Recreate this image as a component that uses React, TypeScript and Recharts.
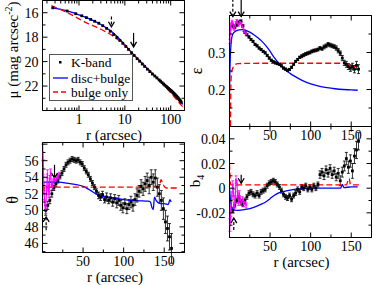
import React from 'react';
import {
  ComposedChart,
  Line,
  Scatter,
  XAxis,
  YAxis,
  ErrorBar,
  ReferenceLine,
} from 'recharts';

const W = 374;
const H = 285;
const FONT = '"Liberation Serif", "DejaVu Serif", serif';
const BLUE = '#0000ff';
const RED = '#ff0000';
const MAGENTA = '#ff00ff';

// ---- surface brightness profile (log r) ----
const KB_R = [0.27, 0.55, 0.85, 1.15, 1.45, 1.8, 2.2, 2.7, 3.3, 4.0, 4.8, 5.7, 6.7, 7.8, 9, 10.5, 12, 14, 16, 18.5, 21, 24, 27, 31, 35, 40, 45, 50, 56,
  60, 65, 70, 75, 80, 85, 90, 95, 100, 105, 110, 115, 120, 125, 130, 135, 140, 145, 150, 155, 160, 165, 170];
const KB_MU = [15.6, 15.86, 16.08, 16.25, 16.4, 16.55, 16.7, 16.86, 17.06, 17.28, 17.52, 17.78, 18.02, 18.26, 18.5, 18.76, 19.0, 19.27, 19.5, 19.76, 19.97, 20.2, 20.4, 20.62, 20.82, 21.02, 21.18, 21.33, 21.5,
  21.6, 21.72, 21.83, 21.93, 22.03, 22.12, 22.2, 22.28, 22.35, 22.42, 22.5, 22.57, 22.64, 22.71, 22.78, 22.85, 22.92, 22.98, 23.05, 23.12, 23.18, 23.25, 23.32];
const DB_R = [0.25, 0.4, 0.6, 0.8, 1, 1.5, 2, 3, 4, 5, 7, 10, 15, 20, 30, 40, 60, 80, 100, 130, 160, 185];
const DB_MU = [15.6, 15.72, 15.88, 16.04, 16.18, 16.42, 16.62, 16.96, 17.25, 17.5, 18.0, 18.62, 19.37, 19.85, 20.52, 21.0, 21.62, 22.08, 22.45, 22.9, 23.25, 23.5];
const BO_R = [0.25, 0.4, 0.6, 1, 1.5, 2, 3, 4, 5, 7, 10, 15, 20, 30, 45, 60, 80, 100, 130, 160, 185];
const BO_MU = [15.42, 15.75, 16.05, 16.5, 16.85, 17.05, 17.35, 17.6, 17.8, 18.2, 18.7, 19.37, 19.85, 20.5, 21.15, 21.65, 22.15, 22.55, 23.05, 23.45, 23.72];

// ---- ellipse fit, outer radii ----
const FIT_R = [4, 6.5, 9, 11.5, 14, 16.5, 19, 21.5, 24, 26.5, 29, 31.5, 34, 36.5, 39, 41.5, 44, 46.5, 49, 51.5, 54, 56.5, 59, 61.5, 64, 66.5, 69, 71.5, 74, 76.5,
  79, 81.5, 84, 86.5, 89, 91.5, 94, 96.5, 99, 101.5, 104, 106.5, 109, 111.5, 114, 116.5, 119, 121.5, 124, 126.5, 129, 131.5, 134, 136.5, 139, 141.5, 144, 146.5, 149, 151.5,
  154, 156.5, 159];
const EPS = [0.372, 0.368, 0.375, 0.382, 0.385, 0.372, 0.355, 0.348, 0.342, 0.335,
  0.330, 0.322, 0.318, 0.312, 0.308, 0.303, 0.299, 0.292, 0.285, 0.279,
  0.275, 0.272, 0.270, 0.268, 0.264, 0.258, 0.255, 0.252, 0.254, 0.260,
  0.268, 0.276, 0.281, 0.287, 0.290, 0.293, 0.296, 0.298, 0.300, 0.303,
  0.305, 0.306, 0.308, 0.312, 0.310, 0.315, 0.318, 0.322, 0.320, 0.318,
  0.316, 0.312, 0.305, 0.298, 0.285, 0.272, 0.268, 0.262, 0.258, 0.262,
  0.255, 0.265, 0.255];
const EPS_ERR = [0.005, 0.004, 0.004, 0.003, 0.003, 0.003, 0.003, 0.003, 0.003, 0.003,
  0.003, 0.003, 0.003, 0.003, 0.003, 0.003, 0.003, 0.003, 0.003, 0.003,
  0.003, 0.003, 0.003, 0.003, 0.003, 0.003, 0.003, 0.003, 0.003, 0.003,
  0.003, 0.003, 0.003, 0.003, 0.004, 0.004, 0.004, 0.004, 0.004, 0.004,
  0.004, 0.004, 0.004, 0.004, 0.004, 0.005, 0.005, 0.005, 0.005, 0.005,
  0.005, 0.006, 0.006, 0.006, 0.007, 0.007, 0.008, 0.008, 0.009, 0.009,
  0.010, 0.011, 0.012];
const PA = [50.0, 50.6, 51.2, 52.0, 52.7, 53.2, 53.6, 54.1, 54.5, 55.0,
  55.5, 55.8, 56.0, 56.2, 56.1, 56.0, 56.1, 55.8, 55.6, 55.1,
  54.7, 54.3, 53.8, 53.3, 52.8, 52.3, 51.8, 51.6, 51.9, 51.3,
  51.6, 51.2, 51.5, 51.0, 51.4, 50.9, 51.2, 50.6, 50.3, 50.8,
  50.2, 50.7, 51.0, 50.6, 51.3, 51.8, 52.3, 52.9, 52.6, 53.2,
  53.6, 53.0, 54.0, 53.4, 53.9, 52.8, 52.0, 51.2, 50.2, 48.6,
  47.8, 46.8, 45.4];
const PA_ERR = [0.6, 0.5, 0.4, 0.4, 0.3, 0.3, 0.3, 0.3, 0.3, 0.3,
  0.3, 0.3, 0.3, 0.3, 0.3, 0.3, 0.3, 0.3, 0.3, 0.3,
  0.3, 0.3, 0.3, 0.3, 0.3, 0.3, 0.4, 0.4, 0.4, 0.4,
  0.5, 0.4, 0.5, 0.5, 0.5, 0.6, 0.6, 0.6, 0.6, 0.6,
  0.6, 0.6, 0.7, 0.7, 0.7, 0.8, 0.7, 0.8, 0.8, 0.9,
  0.9, 1.0, 0.9, 1.0, 1.0, 1.1, 1.1, 1.2, 1.3, 1.4,
  1.5, 1.6, 1.8];
const B4 = [-0.018, -0.014, -0.010, -0.008, -0.011, -0.013, -0.010, -0.007, -0.004, -0.003,
  -0.005, -0.006, -0.004, -0.006, -0.003, -0.002, -0.001, 0.002, 0.004, 0.005,
  0.006, 0.005, 0.003, 0.001, -0.002, -0.005, -0.007, -0.008, -0.006, -0.009,
  -0.006, -0.004, -0.001, -0.003, 0.001, 0.000, 0.002, -0.001, 0.001, -0.001,
  0.002, 0.000, 0.003, 0.011, 0.013, 0.010, 0.015, 0.012, 0.016, 0.011,
  0.014, 0.009, 0.012, 0.006, 0.013, 0.018, 0.024, 0.017, 0.022, 0.014,
  0.026, 0.031, 0.038];
const B4_ERR = [0.002, 0.002, 0.002, 0.002, 0.002, 0.002, 0.002, 0.002, 0.002, 0.002,
  0.002, 0.002, 0.002, 0.002, 0.002, 0.002, 0.002, 0.002, 0.002, 0.002,
  0.002, 0.002, 0.002, 0.002, 0.002, 0.002, 0.002, 0.002, 0.002, 0.002,
  0.002, 0.002, 0.002, 0.002, 0.002, 0.002, 0.002, 0.002, 0.002, 0.002,
  0.002, 0.002, 0.002, 0.003, 0.003, 0.003, 0.003, 0.003, 0.003, 0.003,
  0.003, 0.003, 0.004, 0.004, 0.004, 0.004, 0.005, 0.005, 0.005, 0.006,
  0.006, 0.007, 0.007];

// ---- ellipse fit, inner radii (magenta) ----
const IN_R = [0.5, 1, 1.5, 2, 3, 4, 5, 6, 7, 8, 9, 10, 11, 12, 13, 14.5, 16, 17.5, 19, 20.5];
const IN_EPS = [0.33, 0.355, 0.368, 0.376, 0.383, 0.378, 0.368, 0.364, 0.372, 0.38, 0.386, 0.38, 0.374, 0.378, 0.383, 0.38, 0.37, 0.36, 0.355, 0.35];
const IN_EPS_ERR = [0.006, 0.005, 0.005, 0.004, 0.004, 0.004, 0.004, 0.004, 0.004, 0.004, 0.003, 0.003, 0.003, 0.003, 0.003, 0.003, 0.003, 0.003, 0.003, 0.003];
const IN_PA = [57.0, 55.2, 53.2, 52.0, 50.6, 50.1, 52.4, 54.4, 53.0, 51.9, 53.8, 54.6, 53.1, 52.8, 53.5, 53.9, 53.5, 53.9, 54.1, 54.3];
const IN_PA_ERR = [1.0, 0.9, 0.8, 0.7, 0.6, 0.5, 0.5, 0.5, 0.4, 0.4, 0.4, 0.4, 0.3, 0.3, 0.3, 0.3, 0.3, 0.3, 0.3, 0.3];
const IN_B4 = [-0.03, -0.024, -0.019, -0.014, -0.006, 0.003, -0.004, -0.015, -0.009, 0.007, 0.004, -0.005, -0.012, -0.004, -0.009, -0.012, -0.009, -0.013, -0.011, -0.014];
const IN_B4_ERR = [0.005, 0.004, 0.004, 0.003, 0.003, 0.003, 0.003, 0.003, 0.003, 0.003, 0.002, 0.002, 0.002, 0.002, 0.002, 0.002, 0.002, 0.002, 0.002, 0.002];

// ---- model profiles ----
const EPS_DB_R = [0, 0.5, 1, 2, 3, 5, 8, 12, 16, 20, 25, 30, 35, 40, 45, 50, 55, 60, 65, 70, 75, 80, 90, 100, 110, 120, 130, 140, 150, 158];
const EPS_DB = [0.19, 0.25, 0.29, 0.325, 0.342, 0.353, 0.358, 0.361, 0.362, 0.36, 0.355, 0.348, 0.34, 0.33, 0.318, 0.303, 0.287, 0.273, 0.261, 0.251, 0.243, 0.236, 0.224, 0.215, 0.209, 0.205, 0.202, 0.2, 0.199, 0.198];
const EPS_BO_R = [1.2, 1.5, 2, 3, 4.5, 7, 10, 40, 80, 120, 143, 146, 149, 152, 158];
const EPS_BO = [0.1, 0.18, 0.23, 0.25, 0.26, 0.267, 0.27, 0.271, 0.271, 0.271, 0.271, 0.268, 0.264, 0.262, 0.262];
const PA_DB_R = [0, 10, 20, 30, 40, 50, 55, 60, 65, 70, 80, 90, 100, 110, 120, 130, 133, 135, 136.5, 138, 140, 145, 150, 155, 157, 158.5];
const PA_DB = [53.4, 53.4, 53.4, 53.3, 53.15, 52.9, 52.65, 52.35, 52.05, 51.8, 51.6, 51.45, 51.3, 51.2, 51.15, 51.1, 51.0, 50.3, 50.1, 51.6, 51.2, 50.8, 50.8, 50.7, 51.3, 51.0];
const PA_BO_R = [0, 0.7, 1.5, 2.5, 4, 10, 60, 120, 140, 144, 146, 148, 150, 153, 168];
const PA_BO = [52.8, 53.6, 52.2, 53.0, 52.8, 52.8, 52.8, 52.8, 52.8, 52.9, 53.7, 53.3, 52.9, 52.7, 52.7];
const B4_DB_R = [0, 1, 2, 3, 5, 10, 20, 30, 40, 45, 50, 55, 60, 70, 80, 90, 100, 130, 137, 139, 141, 150, 158];
const B4_DB = [0, -0.008, -0.013, -0.016, -0.0175, -0.018, -0.0172, -0.0155, -0.0128, -0.011, -0.0085, -0.006, -0.004, -0.0022, -0.001, -0.0004, 0, 0, 0, 0.003, 0.0005, 0.001, 0.001];
const B4_BO_R = [0, 0.7, 1.5, 3, 60, 120, 144, 146, 147.5, 149, 152, 160];
const B4_BO = [0.02, 0.01, 0.0027, 0.0027, 0.0027, 0.0027, 0.0027, 0.006, 0.008, 0.003, 0.0027, 0.0027];

// ---- arrows (r, from, to, dashed) ----
const MU_ARROWS = [{ r: 5.1, from: 16.3, to: 17.15, dashed: true }, { r: 15.5, from: 17.65, to: 18.8, dashed: false }];
const EPS_ARROWS = [{ r: 4.1, from: 0.445, to: 0.397, dashed: true }, { r: 14.4, from: 0.445, to: 0.397, dashed: false }];
const PA_ARROWS = [{ r: 4.5, from: 47.6, to: 49.2, dashed: true }, { r: 14.8, from: 55.5, to: 53.9, dashed: false }];
const B4_ARROWS = [{ r: 5.3, from: -0.034, to: -0.0243, dashed: true }, { r: 14.4, from: 0.0108, to: 0.004, dashed: false }];

// ---- ticks ----
const LOG_TICKS = [0.2, 0.3, 0.4, 0.5, 0.6, 0.7, 0.8, 0.9, 1, 2, 3, 4, 5, 6, 7, 8, 9, 10, 20, 30, 40, 50, 60, 70, 80, 90, 100, 200];
const LIN_TICKS = [0, 25, 50, 75, 100, 125, 150, 175];
const MU_TICKS = [15, 16, 17, 18, 19, 20, 21, 22, 23, 24];
const EPS_TICKS = [0.1, 0.15, 0.2, 0.25, 0.3, 0.35, 0.4];
const PA_TICKS = [45, 46, 47, 48, 49, 50, 51, 52, 53, 54, 55, 56, 57, 58];
const B4_TICKS = [-0.04, -0.03, -0.02, -0.01, 0, 0.01, 0.02, 0.03, 0.04, 0.05];

const pts = (r: number[], v: number[], e?: number[]) => r.map((x, i) => ({ r: x, v: v[i], e: e ? e[i] : 0 }));

type Side = 'bottom' | 'top' | 'left' | 'right';
const close = (a: number, b: number) => Math.abs(a - b) < 1e-6;
const TICK_FONT = 14;

function makeTick(side: Side, major: number[], labels: number[]) {
  return (p: any) => {
    const v: number = p.payload.value;
    const len = major.some((m) => close(m, v)) ? 5 : 3;
    const lab = labels.some((m) => close(m, v));
    const { x, y } = p;
    let x2 = x;
    let y2 = y;
    if (side === 'bottom') y2 = y - len;
    if (side === 'top') y2 = y + len;
    if (side === 'left') x2 = x + len;
    if (side === 'right') x2 = x - len;
    return (
      <g>
        <line x1={x} y1={y} x2={x2} y2={y2} stroke="#000" strokeWidth={1} />
        {lab && side === 'bottom' && (
          <text x={x} y={y + 13} textAnchor="middle" style={{ fontFamily: FONT }} fontSize={TICK_FONT} fill="#000">{v}</text>
        )}
        {lab && side === 'left' && (
          <text x={x - 4} y={y + 5} textAnchor="end" style={{ fontFamily: FONT }} fontSize={TICK_FONT} fill="#000">{v}</text>
        )}
      </g>
    );
  };
}

interface AxisCfg {
  xDomain: [number, number];
  xLog?: boolean;
  xTicks: number[];
  xMajor: number[];
  xLabels: number[];
  yDomain: [number, number];
  yReversed?: boolean;
  yTicks: number[];
  yMajor: number[];
  yLabels: number[];
}

const AXIS_LINE = { stroke: '#000', strokeWidth: 1 };

// every axis is 1px thick, so the chart margins below are one pixel smaller than the frame
function axes(c: AxisCfg) {
  const common = {
    tickSize: 0,
    tickMargin: 0,
    tickLine: false,
    axisLine: AXIS_LINE,
    interval: 0 as const,
    allowDataOverflow: true,
    type: 'number' as const,
  };
  const scale = c.xLog ? 'log' : 'linear';
  return [
    <XAxis key="xb" dataKey="r" scale={scale} domain={c.xDomain} ticks={c.xTicks} height={1} {...common}
      tick={makeTick('bottom', c.xMajor, c.xLabels)} />,
    <XAxis key="xt" xAxisId="t" orientation="top" dataKey="r" scale={scale} domain={c.xDomain} ticks={c.xTicks} height={1} {...common}
      tick={makeTick('top', c.xMajor, [])} />,
    <YAxis key="yl" domain={c.yDomain} reversed={c.yReversed} ticks={c.yTicks} width={1} {...common}
      tick={makeTick('left', c.yMajor, c.yLabels)} />,
    <YAxis key="yr" yAxisId="rr" orientation="right" domain={c.yDomain} reversed={c.yReversed} ticks={c.yTicks} width={1} {...common}
      tick={makeTick('right', c.yMajor, [])} />,
  ];
}

const arrowShape = (dashed: boolean) => (p: any) => {
  const { x1, y1, x2, y2 } = p;
  const dir = y2 > y1 ? 1 : -1;
  return (
    <g>
      <line x1={x1} y1={y1} x2={x2} y2={y2} stroke="#000" strokeWidth={1.2} strokeDasharray={dashed ? '3 2' : undefined} />
      <path d={`M${x2 - 3},${y2 - 5 * dir} L${x2},${y2} L${x2 + 3},${y2 - 5 * dir}`} fill="none" stroke="#000" strokeWidth={1.3} />
    </g>
  );
};

function arrows(list: { r: number; from: number; to: number; dashed: boolean }[]) {
  return list.map((a, i) => (
    <ReferenceLine
      key={`arr${i}`}
      segment={[{ x: a.r, y: a.from }, { x: a.r, y: a.to }]}
      ifOverflow="visible"
      shape={arrowShape(a.dashed)}
    />
  ));
}

const blackDot = (p: any) => <rect x={p.cx - 1.4} y={p.cy - 1.4} width={2.8} height={2.8} fill="#000" />;
const magentaDot = (p: any) => <rect x={p.cx - 0.8} y={p.cy - 0.8} width={1.6} height={1.6} fill={MAGENTA} />;

function dataSeries(outer: any[], inner: any[] | null) {
  const out = [
    <Scatter key="blk" data={outer} dataKey="v" shape={blackDot} isAnimationActive={false}>
      <ErrorBar dataKey="e" direction="y" width={1.5} stroke="#000" strokeWidth={0.8} />
    </Scatter>,
  ];
  if (inner) {
    out.push(
      <Scatter key="mag" data={inner} dataKey="v" shape={magentaDot} line={{ stroke: MAGENTA, strokeWidth: 1 }} lineType="joint" isAnimationActive={false}>
        <ErrorBar dataKey="e" direction="y" width={1.5} stroke={MAGENTA} strokeWidth={0.8} />
      </Scatter>,
    );
  }
  return out;
}

const modelLines = (db: any[], bo: any[]) => [
  <Line key="db" data={db} dataKey="v" type="monotone" stroke={BLUE} strokeWidth={1.3} dot={false} isAnimationActive={false} />,
  <Line key="bo" data={bo} dataKey="v" type="monotone" stroke={RED} strokeWidth={1.3} strokeDasharray="6 3" dot={false} isAnimationActive={false} />,
];

const pos: React.CSSProperties = { position: 'absolute', left: 0, top: 0 };

export default function App() {
  const linX = { xDomain: [0, 175] as [number, number], xTicks: LIN_TICKS, xMajor: [0, 50, 100, 150], xLabels: [50, 100, 150] };

  return (
    <div style={{ position: 'absolute', left: 0, top: 0, width: W, height: H, background: '#fff', overflow: 'hidden' }}>
      {/* surface brightness */}
      <div style={pos}>
        <ComposedChart width={W} height={H} margin={{ top: -0.5, left: 41.5, right: 188.5, bottom: 173.5 }}>
          {axes({
            xDomain: [0.16, 200], xLog: true, xTicks: LOG_TICKS, xMajor: [1, 10, 100], xLabels: [1, 10, 100],
            yDomain: [15, 24], yReversed: true, yTicks: MU_TICKS, yMajor: [16, 18, 20, 22, 24], yLabels: [16, 18, 20, 22],
          })}
          <Scatter data={pts(KB_R, KB_MU)} dataKey="v" shape={blackDot} isAnimationActive={false} />
          {modelLines(pts(DB_R, DB_MU), pts(BO_R, BO_MU))}
          {arrows(MU_ARROWS)}
        </ComposedChart>
      </div>

      {/* ellipticity */}
      <div style={pos}>
        <ComposedChart width={W} height={H} margin={{ top: 14.5, left: 228.5, right: 1.5, bottom: 157.5 }}>
          {axes({ ...linX, yDomain: [0.1, 0.4], yTicks: EPS_TICKS, yMajor: [0.1, 0.2, 0.3, 0.4], yLabels: [0.2, 0.3] })}
          {dataSeries(pts(FIT_R, EPS, EPS_ERR), pts(IN_R, IN_EPS, IN_EPS_ERR))}
          {modelLines(pts(EPS_DB_R, EPS_DB), pts(EPS_BO_R, EPS_BO))}
          {arrows(EPS_ARROWS)}
        </ComposedChart>
      </div>

      {/* position angle */}
      <div style={pos}>
        <ComposedChart width={W} height={H} margin={{ top: 141.5, left: 41.5, right: 188.5, bottom: 31.5 }}>
          {axes({ ...linX, yDomain: [44.9, 58.2], yTicks: PA_TICKS, yMajor: [46, 48, 50, 52, 54, 56, 58], yLabels: [46, 48, 50, 52, 54, 56] })}
          {dataSeries(pts(FIT_R, PA, PA_ERR), pts(IN_R, IN_PA, IN_PA_ERR))}
          {modelLines(pts(PA_DB_R, PA_DB), pts(PA_BO_R, PA_BO))}
          {arrows(PA_ARROWS)}
        </ComposedChart>
      </div>

      {/* b4 */}
      <div style={pos}>
        <ComposedChart width={W} height={H} margin={{ top: 125.5, left: 228.5, right: 1.5, bottom: 46.5 }}>
          {axes({ ...linX, yDomain: [-0.04, 0.05], yTicks: B4_TICKS, yMajor: [-0.04, -0.02, 0, 0.02, 0.04], yLabels: [-0.02, 0, 0.02, 0.04] })}
          {dataSeries(pts(FIT_R, B4, B4_ERR), pts(IN_R, IN_B4, IN_B4_ERR))}
          {modelLines(pts(B4_DB_R, B4_DB), pts(B4_BO_R, B4_BO))}
          {arrows(B4_ARROWS)}
        </ComposedChart>
      </div>

      {/* titles and legend */}
      <svg width={W} height={H} style={{ ...pos, pointerEvents: 'none', fontFamily: FONT }} fill="#000">
        <text transform="translate(18,50) rotate(-90)" textAnchor="middle" fontSize={15}>
          μ (mag arcsec<tspan dy={-6} fontSize={10}>-2</tspan><tspan dy={6}>)</tspan>
        </text>
        <text x={114} y={140} textAnchor="middle" fontSize={15}>r (arcsec)</text>
        <text transform="translate(202,71) rotate(-90)" textAnchor="middle" fontSize={16}>ε</text>
        <text transform="translate(18,200) rotate(-90)" textAnchor="middle" fontSize={16}>θ</text>
        <text x={115} y={282} textAnchor="middle" fontSize={15}>r (arcsec)</text>
        <text transform="translate(200,181) rotate(-90)" textAnchor="middle" fontSize={15}>
          b<tspan dy={4} fontSize={10}>4</tspan>
        </text>
        <text x={301.5} y={267} textAnchor="middle" fontSize={15}>r (arcsec)</text>

        <rect x={49.5} y={54.5} width={83} height={46} fill="#fff" stroke="#555" strokeWidth={1} />
        <rect x={59} y={61} width={2.5} height={2.5} fill="#000" />
        <line x1={53} y1={78} x2={68} y2={78} stroke={BLUE} strokeWidth={1.3} />
        <line x1={53} y1={92} x2={68} y2={92} stroke={RED} strokeWidth={1.3} strokeDasharray="5 3" />
        <text x={71} y={66.5} fontSize={13.5}>K-band</text>
        <text x={71} y={82.5} fontSize={13.5}>disc+bulge</text>
        <text x={71} y={96.5} fontSize={13.5}>bulge only</text>
      </svg>
    </div>
  );
}
